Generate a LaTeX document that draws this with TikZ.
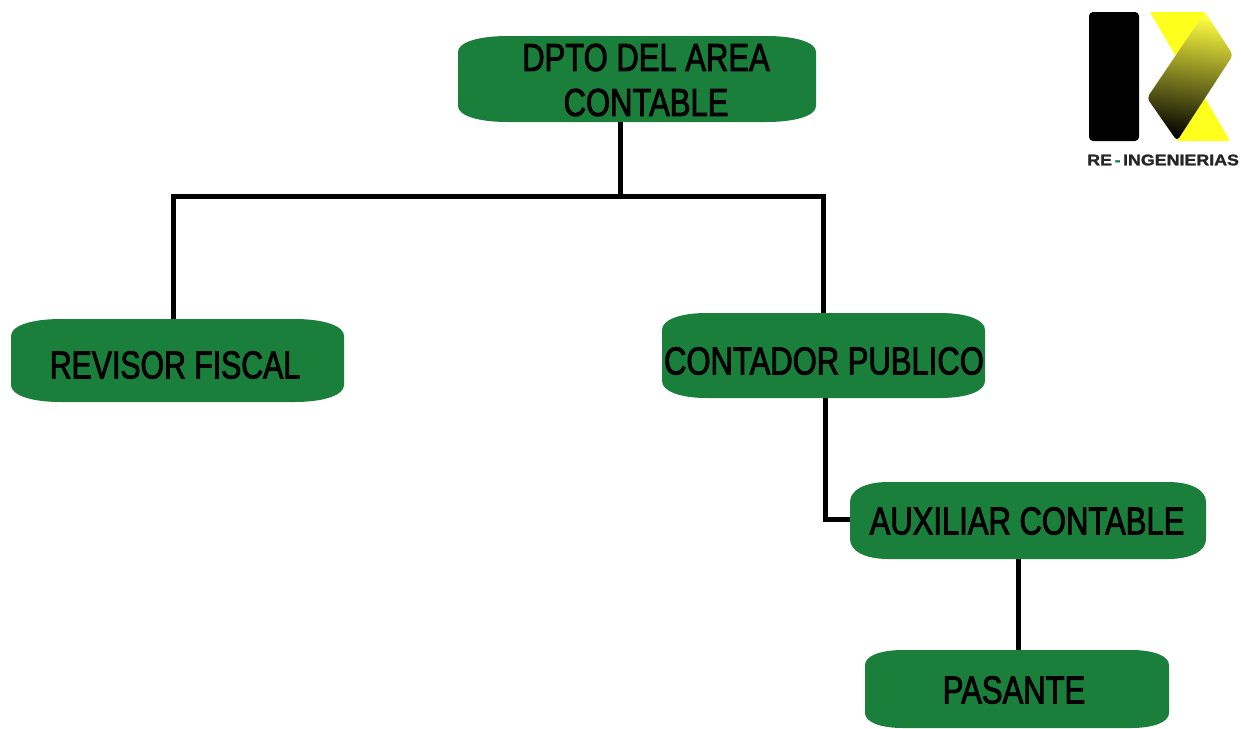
\documentclass[tikz,border=0pt]{standalone}
\usepackage{fontspec}
\setmainfont{Liberation Sans}
\newfontfamily\condfont[FakeStretch=0.795,FakeBold=2.2]{Liberation Sans}
\newfontfamily\narrowfont[FakeStretch=0.775,FakeBold=2.2]{Liberation Sans}
\newfontfamily\logofont[FakeStretch=1.15,FakeBold=1.6]{Liberation Sans Bold}
\usetikzlibrary{calc}
\definecolor{boxgreen}{HTML}{1A7F3A}
\definecolor{logoyellow}{HTML}{FFFF1E}
\definecolor{logotop}{HTML}{FFFF40}
\definecolor{logomid}{HTML}{A6A626}
\tikzset{
  anchorbox/.style={draw=none,fill=none,rectangle,inner sep=0pt,outer sep=0pt},
  boxlabel/.style={inner sep=0pt,align=center,text=black,font=\condfont\fontsize{39}{45}\selectfont},
  narrowlabel/.style={boxlabel,font=\narrowfont\fontsize{39}{45}\selectfont},
  link/.style={draw=black,line width=5pt,line cap=butt,line join=miter},
  logotext/.style={inner sep=0pt,font=\logofont\fontsize{15.5}{16}\selectfont,text=black!85}
}
% name, x0, y0, x1, y1, rx, ry
\newcommand{\greenbox}[7]{%
  \fill[boxgreen] ({#2+#6},#3) -- ({#4-#6},#3)
    .. controls ({#4-0.4*#6},#3) and (#4,{#3+0.4*#7}) .. (#4,{#3+#7})
    -- (#4,{#5-#7})
    .. controls (#4,{#5-0.4*#7}) and ({#4-0.4*#6},#5) .. ({#4-#6},#5)
    -- ({#2+#6},#5)
    .. controls ({#2+0.4*#6},#5) and (#2,{#5-0.4*#7}) .. (#2,{#5-#7})
    -- (#2,{#3+#7})
    .. controls (#2,{#3+0.4*#7}) and ({#2+0.4*#6},#3) .. ({#2+#6},#3) -- cycle;
  \node[anchorbox,minimum width={(#4-#2)*1pt},minimum height={(#5-#3)*1pt}] (#1) at ({(#2+#4)/2},{(#3+#5)/2}) {};
}
\begin{document}
\begin{tikzpicture}[x=1pt,y=-1pt]
\useasboundingbox (0,0) rectangle (1241,728);
\fill[white] (0,0) rectangle (1241,728);

% junctions
\coordinate (hub) at (620,196);
\coordinate (leftdrop) at (173,196);
\coordinate (rightdrop) at (823,196);
\coordinate (elbow) at (825,519);
\coordinate (stem) at (1018,600);

% boxes
\greenbox{dpto}{458}{36}{816}{122}{50}{16}
\greenbox{revisor}{11}{319}{344}{402}{50}{17}
\greenbox{contador}{662}{313}{985}{398}{45}{17}
\greenbox{auxiliar}{850}{482}{1206}{559}{38}{20}
\greenbox{pasante}{865}{650}{1169}{728}{38}{15}

% connectors
\draw[link] (hub |- dpto.south) -- (hub);
\draw[link] (leftdrop |- revisor.north) -- (leftdrop) -- (rightdrop) -- (rightdrop |- contador.north);
\draw[link] (elbow |- contador.south) -- (elbow) -- (elbow -| auxiliar.west);
\draw[link] (stem |- auxiliar.south) -- (stem |- pasante.north);

% labels
\node[boxlabel] (dptotext) at (646,80) {DPTO DEL AREA\\CONTABLE};
\node[narrowlabel] (revisortext) at (175,365) {REVISOR FISCAL};
\node[boxlabel] (contadortext) at (824,361) {CONTADOR PUBLICO};
\node[boxlabel] (auxiliartext) at (1027,521) {AUXILIAR CONTABLE};
\node[boxlabel] (pasantetext) at (1014,690) {PASANTE};

% logo
\fill[black,rounded corners=4pt] (1089,12) rectangle (1139,141);
\fill[logoyellow,rounded corners=2pt] (1150,12) -- (1206,12) -- (1180,60) -- (1175,55) -- cycle;
\fill[logoyellow,rounded corners=2pt] (1205,98) -- (1230,141) -- (1176,141) -- (1190,110) -- cycle;
\shade[top color=logotop,middle color=logomid,bottom color=black,shading angle=-8,rounded corners=4pt]
  (1205,12) -- (1233,55) -- (1177,141) -- (1147,98) -- cycle;
\node[logotext,anchor=west] (logoname) at (1087,160) {RE\,\textcolor{boxgreen}{-}\,INGENIERIAS};
\end{tikzpicture}
\end{document}
